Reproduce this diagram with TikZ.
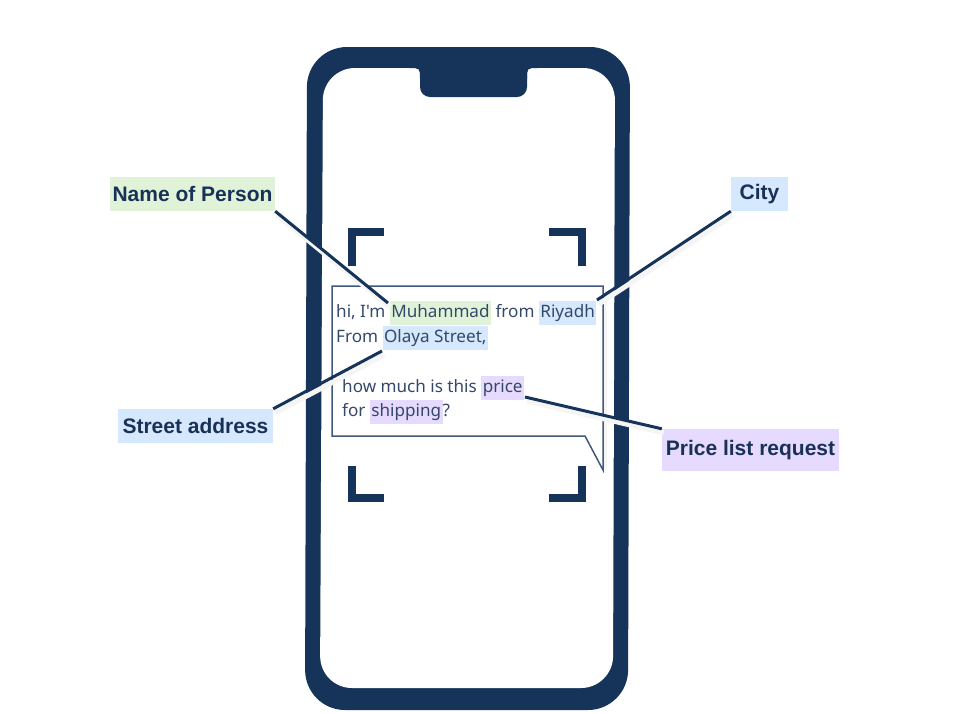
\documentclass[tikz,border=0pt]{standalone}
\usepackage{xcolor}
\usepackage{fontspec}
\setmainfont{Liberation Sans}
\newfontfamily\chatfont{Noto Sans}
\usepackage{tikz}
\usetikzlibrary{positioning,arrows.meta}
\definecolor{phone}{HTML}{16345A}
\definecolor{labtext}{HTML}{1A3157}
\definecolor{chattext}{HTML}{34486A}
\definecolor{chatline}{HTML}{40597D}
\definecolor{namebg}{HTML}{E0F3D8}
\definecolor{placebg}{HTML}{D5E8FD}
\definecolor{pricebg}{HTML}{E6DAFE}
\newcommand{\hl}[2]{{\setlength{\fboxsep}{1.5pt}\colorbox{#1}{\strut #2}}}

\begin{document}
\begin{tikzpicture}[
  x=1pt, y=-1pt,
  lab/.style={font=\fontsize{21}{24}\selectfont\bfseries, text=labtext, inner xsep=2pt, minimum height=34pt},
  chat/.style={font=\chatfont\fontsize{17.1}{21}\selectfont, text=chattext, inner sep=0pt, anchor=base west},
  lead/.style={phone, line width=3pt},
  shade/.style={black!4, line width=5pt},
  corner/.style={phone, line width=8pt, line join=miter}
]
\useasboundingbox (0,0) rectangle (956,713);

% phone body
\fill[phone, rounded corners=40pt] (307,47) -- (630,47) -- (628,710) -- (305,710) -- cycle;
\fill[white, rounded corners=32pt] (323,68) -- (615,68) -- (613,688) -- (320,688) -- cycle;
\fill[phone, rounded corners=10pt] (420,50) -- (420,97) -- (527,97) -- (527,50) -- cycle;
\fill[phone] (409,68) .. controls (420,68) .. (420,79) -- (420,68) -- cycle;
\fill[phone] (538,68) .. controls (527,68) .. (527,79) -- (527,68) -- cycle;

% scan corners
\draw[corner] (352,266) -- (352,232) -- (384,232);
\draw[corner] (549,232) -- (582,232) -- (582,266);
\draw[corner] (352,466) -- (352,498) -- (384,498);
\draw[corner] (549,498) -- (582,498) -- (582,466);

% message bubble
\draw[black!4, line width=3pt] (605,290) -- (605,468);
\draw[chatline, line width=1.5pt, fill=white] (332,286) -- (603,286) -- (603,470) -- (585,436) -- (332,436) -- cycle;
\node[chat] (l1) at (336,317) {hi, I'm \hl{namebg}{Muhammad} from \hl{placebg}{Riyadh}};
\node[chat] (l2) at (336,342) {From \hl{placebg}{Olaya Street,}};
\node[chat] (l3) at (342,392) {how much is this \hl{pricebg}{price}};
\node[chat] (l4) at (342,416) {for \hl{pricebg}{shipping}?};

\coordinate (muh) at (388,303);
\coordinate (riy) at (597,300);
\coordinate (ola) at (382,351);
\coordinate (pri) at (525,397);

% labels
\node[lab, fill=namebg, minimum width=165pt] (name) at (192.5,194) {Name of Person};
\node[lab, fill=placebg, minimum width=57pt] (city) at (759.5,194) {City};
\node[lab, fill=placebg, minimum width=155pt] (street) at (195.5,426) {Street address};
\node[lab, fill=pricebg, minimum width=177pt, minimum height=42pt] (price) at (750.5,450) {Price list request};

\draw[shade] ([shift={(2,4)}]name.south east) -- ([shift={(2,4)}]muh);
\draw[shade] ([shift={(2,4)}]city.south west) -- ([shift={(2,4)}]riy);
\draw[shade] ([shift={(2,4)}]street.north east) -- ([shift={(2,4)}]ola);
\draw[shade] ([shift={(2,4)}]price.north west) -- ([shift={(2,4)}]pri);
\draw[lead] (name.south east) -- (muh);
\draw[lead] (city.south west) -- (riy);
\draw[lead] (street.north east) -- (ola);
\draw[lead] (price.north west) -- (pri);
\end{tikzpicture}
\end{document}
